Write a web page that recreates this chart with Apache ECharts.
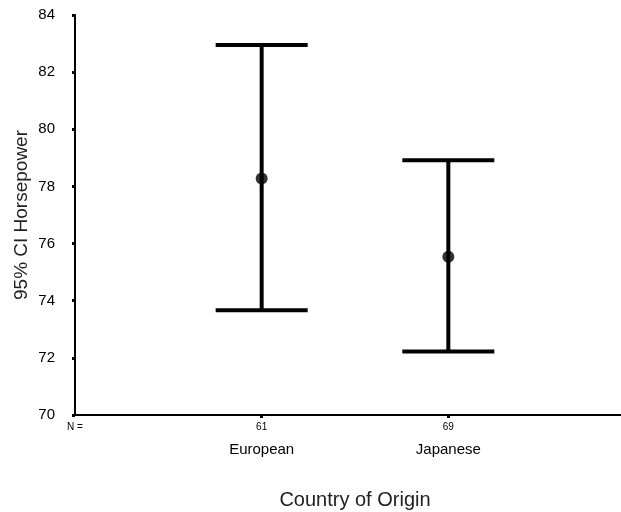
<!DOCTYPE html>
<html>
<head>
<meta charset="utf-8">
<script src="https://cdn.jsdelivr.net/npm/echarts@6/dist/echarts.min.js"></script>
<style>html,body{margin:0;padding:0;background:#fff;}#c{width:621px;height:512px;}</style>
</head>
<body>
<div id="c"></div>
<script>
const categories = ['', 'European', 'Japanese', ''];
const counts = ['N =', '61', '69', ''];
const means = [null, 78.28, 75.54, null];
const lower = [null, 73.67, 72.22, null];
const upper = [null, 82.95, 78.92, null];
const yTicks = [70, 72, 74, 76, 78, 80, 82, 84];

const chart = echarts.init(document.getElementById('c'));
const barData = [];
const meanData = [];
categories.forEach((c, i) => {
  if (means[i] != null) {
    barData.push([i, lower[i], upper[i]]);
    meanData.push([i, means[i]]);
  }
});

chart.setOption({
  animation: false,
  backgroundColor: '#fff',
  grid: { left: 75, top: 15, width: 560, height: 400, outerBoundsMode: 'none', containLabel: false },
  xAxis: {
    type: 'category',
    data: categories,
    boundaryGap: false,
    name: 'Country of Origin',
    nameLocation: 'middle',
    nameGap: 75,
    nameMoveOverlap: false,
    nameTextStyle: { fontFamily: 'Liberation Sans', fontSize: 20, color: '#222' },
    axisLine: { lineStyle: { color: '#000', width: 2 } },
    axisTick: {
      show: true, length: 3, inside: false,
      lineStyle: { color: '#000', width: 3 },
      interval: (idx) => idx === 1 || idx === 2
    },
    axisLabel: {
      interval: 0,
      margin: 5,
      formatter: (v, idx) => {
        if (idx === 0) return '{nl|' + counts[0] + '}';
        if (!v) return '';
        return '{n|' + counts[idx] + '}\n{c|' + v + '}';
      },
      rich: {
        nl: { fontFamily: 'Liberation Sans', fontSize: 10, lineHeight: 14, color: '#000' },
        n: { fontFamily: 'Liberation Sans', fontSize: 10, lineHeight: 14, color: '#000' },
        c: { fontFamily: 'Liberation Sans', fontSize: 15, lineHeight: 32, color: '#000' }
      }
    },
    splitLine: { show: false }
  },
  yAxis: {
    type: 'value',
    min: yTicks[0],
    max: yTicks[yTicks.length - 1],
    interval: 2,
    name: '95% CI Horsepower',
    nameLocation: 'middle',
    nameGap: 44,
    nameMoveOverlap: false,
    nameRotate: 90,
    nameTextStyle: { fontFamily: 'Liberation Sans', fontSize: 19, color: '#222' },
    axisLine: { show: true, lineStyle: { color: '#000', width: 2 } },
    axisTick: { show: true, length: 3, lineStyle: { color: '#000', width: 3 } },
    axisLabel: { margin: 20, fontFamily: 'Liberation Sans', fontSize: 15, color: '#000' },
    splitLine: { show: false }
  },
  series: [
    {
      type: 'custom',
      data: barData,
      renderItem: (params, api) => {
        const x = api.value(0);
        const lo = api.coord([x, api.value(1)]);
        const hi = api.coord([x, api.value(2)]);
        const half = 46;
        const style = { stroke: '#000', lineWidth: 4 };
        return {
          type: 'group',
          children: [
            { type: 'line', shape: { x1: lo[0], y1: lo[1], x2: hi[0], y2: hi[1] }, style },
            { type: 'line', shape: { x1: hi[0] - half, y1: hi[1], x2: hi[0] + half, y2: hi[1] }, style },
            { type: 'line', shape: { x1: lo[0] - half, y1: lo[1], x2: lo[0] + half, y2: lo[1] }, style }
          ]
        };
      },
      z: 2
    },
    {
      type: 'scatter',
      data: meanData,
      symbol: 'circle',
      symbolSize: 12,
      itemStyle: { color: '#000' },
      z: 3
    }
  ]
});
</script>
</body>
</html>
